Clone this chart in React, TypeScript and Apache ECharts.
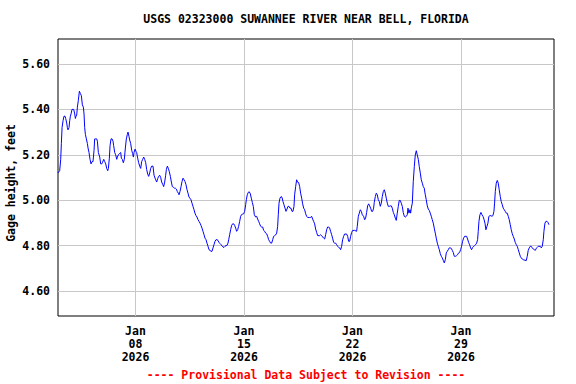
import React, { useEffect, useRef } from "react";
import * as echarts from "echarts";

const TITLE = "USGS 02323000 SUWANNEE RIVER NEAR BELL, FLORIDA";
const Y_NAME = "Gage height, feet";
const FOOTER = "---- Provisional Data Subject to Revision ----";

// hours since 2026-01-03 00:00
const hoursFromStart = [
  0, 2.6, 4.2, 5.2, 6.3, 7.8, 9.3, 10.9, 11.9, 13.5, 14.5, 15.5, 17.1, 18.1, 19.2, 20.2, 21.7, 24.3, 25.9, 26.9,
  27.9, 29.0, 30.0, 31.5, 33.1, 34.6, 36.2, 37.7, 39.3, 40.3, 41.3, 42.4, 43.9, 45.5, 46.5, 48.0, 49.6, 51.1, 52.7, 54.2,
  55.8, 56.8, 57.9, 59.9, 61.0, 62.5, 63.5, 64.6, 66.1, 67.7, 68.7, 70.8, 72.3, 73.9, 75.4, 77.0, 78.0, 79.5, 80.6, 82.1,
  83.7, 85.2, 86.2, 87.8, 89.3, 90.9, 91.9, 93.5, 95.0, 97.1, 98.1, 99.6, 101.2, 102.7, 104.3, 105.8, 107.4, 108.4, 110.0, 111.0,
  112.5, 114.1, 115.6, 116.7, 117.7, 119.3, 120.8, 121.8, 123.4, 124.9, 126.5, 128.0, 129.6, 131.1, 132.7, 134.2, 135.8, 137.3, 138.9, 140.4,
  142.0, 143.5, 145.1, 147.1, 148.7,
  149.7, 151.2, 152.8, 154.3, 155.9, 157.4, 159.0, 160.5, 162.1, 163.6, 165.2, 166.7, 167.8, 169.3, 170.9, 172.4, 174.0, 175.5, 177.0, 178.6,
  180.1, 181.7, 183.2, 184.8, 186.3, 187.4, 188.9, 190.5, 192.0, 193.6, 195.1, 196.7, 198.2, 199.8, 201.3, 202.9, 204.4, 205.9, 207.5, 209.0,
  210.6, 212.1, 213.7, 215.2, 216.8, 218.3, 219.9, 221.4, 223.0, 224.5, 226.1, 227.6, 229.2, 230.7, 232.3, 233.8, 235.4, 236.9, 238.5, 240.0,
  241.5, 243.1, 244.6, 246.2, 247.7, 249.3, 250.8, 252.4, 253.9, 255.5, 257.0, 258.6, 260.1, 261.7, 263.2, 264.3, 265.8, 267.3, 268.9, 270.4,
  272.0, 273.5, 275.1, 276.6, 278.2, 279.7, 281.3, 282.8, 284.4, 285.9, 287.5, 289.0, 290.6, 291.6, 293.1, 294.7, 296.2, 297.8, 299.3, 300.9,
  302.4, 304.0,
  306.0, 307.6, 309.1, 310.7, 312.2, 313.8, 315.3, 316.9, 318.4, 320.0, 321.5, 323.1, 324.6, 326.2, 327.7, 329.3, 330.8, 332.4, 333.9, 335.5,
  337.0, 338.6, 340.1, 341.1, 342.2, 343.7, 345.3, 346.8, 348.4, 349.9, 351.5, 353.0, 354.6, 356.1, 357.6, 359.2, 360.7, 362.3, 363.8, 365.4,
  366.4, 368.0, 369.5, 371.1, 372.6, 374.2, 375.7, 377.3, 378.8, 380.4, 381.9, 383.5, 385.0, 386.5, 389.6, 391.2, 392.7, 394.3, 395.8, 397.4,
  398.9, 400.5, 402.0, 405.1, 406.7, 408.2, 409.8, 411.3, 412.9, 414.4, 416.0, 417.5, 419.1, 420.6, 422.1, 423.7, 425.2, 426.8, 428.3, 429.9,
  431.4, 433.0, 434.5, 436.1, 437.6, 439.2, 440.7, 442.3, 443.8, 446.9, 448.5, 450.0, 451.6, 453.1, 454.7, 456.2, 459.3,
  462.4, 463.4, 465.0, 466.5, 468.1, 469.6, 471.2, 473.2, 474.8, 476.3, 477.9, 479.4, 481.0, 482.5, 484.1, 485.6, 487.2, 488.7, 489.7, 491.3,
  492.8, 494.4, 495.9, 497.5, 499.0, 500.6, 502.1, 503.7, 505.2, 506.8, 508.3, 509.9, 511.4, 513.0, 514.5, 516.1, 517.6, 519.2, 520.7, 522.3,
  523.8, 525.3, 526.9, 528.4, 530.0, 531.5, 533.1, 534.6, 536.2, 537.7, 539.3, 540.8, 541.9, 543.4, 545.0, 546.0, 547.0, 548.6, 550.1, 551.7,
  553.2, 554.8, 556.3, 557.9, 559.4, 561.0, 562.5, 564.1, 565.6, 567.1, 568.7, 570.2, 571.8, 573.3, 574.9, 576.4, 578.0, 579.5, 581.1, 582.6,
  584.2, 585.7, 587.3, 588.8, 590.4, 591.9, 593.5, 595.0, 596.6, 598.1, 599.7, 601.2, 602.8, 604.3, 605.8, 607.4, 608.9, 610.5, 612.0, 613.6,
  615.6, 617.2, 618.7, 620.3, 621.8, 623.4, 624.9, 626.5, 628.0, 629.6, 632.7, 634.2, 635.8, 637.3, 638.9, 640.4, 642.0, 643.5, 645.1, 646.6,
  648.2, 649.7, 650.7, 651.8, 653.3, 654.9, 656.4, 658.0, 659.5, 661.1, 662.6, 664.2, 665.7, 667.2, 668.8, 670.3, 671.9, 673.4, 675.0, 676.0,
  677.1, 678.6, 680.2, 681.7, 683.2, 684.8, 686.3, 687.9, 689.4, 691.0, 692.5, 694.1, 695.6, 697.2, 698.7, 700.3, 701.8, 703.4, 704.9, 706.5,
  708.0, 709.6, 711.1, 712.7, 714.2, 715.8, 717.3, 718.8, 720.4, 725.0, 726.6, 728.1, 729.7, 731.2, 732.8, 734.3, 735.9, 737.4, 739.0, 740.5,
  742.1, 743.6, 746.7, 748.3, 749.8, 751.4, 752.4, 754.0, 755.5, 757.1, 758.6, 760.2,
];

const gageHeight = [
  5.12, 5.13, 5.18, 5.25, 5.32, 5.35, 5.37, 5.37, 5.36, 5.34, 5.32, 5.31, 5.32, 5.35, 5.37, 5.38, 5.40, 5.40, 5.38, 5.36,
  5.37, 5.375, 5.41, 5.44, 5.48, 5.47, 5.46, 5.42, 5.41, 5.38, 5.32, 5.29, 5.27, 5.25, 5.23, 5.21, 5.18, 5.16, 5.17, 5.17,
  5.22, 5.27, 5.27, 5.27, 5.26, 5.21, 5.21, 5.19, 5.16, 5.16, 5.165, 5.18, 5.17, 5.16, 5.14, 5.13, 5.14, 5.185, 5.24, 5.27,
  5.27, 5.26, 5.24, 5.21, 5.20, 5.18, 5.19, 5.20, 5.205, 5.21, 5.185, 5.18, 5.165, 5.18, 5.23, 5.27, 5.29, 5.30, 5.28, 5.265,
  5.25, 5.22, 5.205, 5.19, 5.21, 5.225, 5.215, 5.21, 5.185, 5.165, 5.15, 5.14, 5.17, 5.18, 5.19, 5.18, 5.165, 5.135, 5.115, 5.105,
  5.12, 5.14, 5.15, 5.15, 5.11,
  5.11, 5.09, 5.08, 5.095, 5.105, 5.11, 5.10, 5.08, 5.07, 5.06, 5.08, 5.11, 5.135, 5.15, 5.14, 5.125, 5.105, 5.08, 5.06, 5.057,
  5.053, 5.053, 5.049, 5.038, 5.031, 5.024, 5.038, 5.06, 5.082, 5.097, 5.09, 5.082, 5.068, 5.046, 5.031, 5.013, 5.009, 5.002, 4.987, 4.973,
  4.958, 4.943, 4.932, 4.926, 4.914, 4.907, 4.899, 4.889, 4.877, 4.863, 4.848, 4.833, 4.826, 4.811, 4.797, 4.782, 4.779, 4.775, 4.775, 4.79,
  4.804, 4.819, 4.826, 4.826, 4.823, 4.814, 4.809, 4.804, 4.8, 4.794, 4.792, 4.797, 4.8, 4.801, 4.811, 4.826, 4.848, 4.87, 4.889, 4.896,
  4.896, 4.889, 4.877, 4.863, 4.87, 4.885, 4.907, 4.929, 4.937, 4.939, 4.94, 4.951, 4.98, 5.002, 5.024, 5.035, 5.037, 5.028, 5.009, 4.99,
  4.973, 4.936,
  4.926, 4.929, 4.917, 4.907, 4.896, 4.885, 4.882, 4.882, 4.867, 4.863, 4.855, 4.852, 4.841, 4.826, 4.819, 4.811, 4.811, 4.826, 4.841, 4.844,
  4.847, 4.855, 4.885, 4.936, 4.987, 5.009, 5.016, 5.013, 4.994, 4.98, 4.965, 4.951, 4.961, 4.973, 4.973, 4.965, 4.965, 4.951, 4.951, 4.973,
  5.024, 5.06, 5.09, 5.079, 5.078, 5.06, 5.031, 5.009, 4.984, 4.965, 4.958, 4.94, 4.929, 4.924, 4.924, 4.924, 4.929, 4.917, 4.907, 4.896,
  4.873, 4.858, 4.844, 4.844, 4.848, 4.844, 4.838, 4.833, 4.829, 4.848, 4.87, 4.882, 4.882, 4.877, 4.863, 4.848, 4.833, 4.814, 4.811, 4.811,
  4.804, 4.797, 4.792, 4.79, 4.782, 4.797, 4.826, 4.841, 4.851, 4.851, 4.841, 4.819, 4.819, 4.841, 4.858, 4.867, 4.867,
  4.863, 4.885, 4.929, 4.943, 4.958, 4.951, 4.936, 4.929, 4.914, 4.921, 4.946, 4.975, 4.984, 4.975, 4.965, 4.951, 4.951, 4.965, 4.99, 5.016,
  5.031, 5.024, 5.002, 4.994, 4.973, 4.987, 5.016, 5.038, 5.046, 5.031, 5.009, 4.987, 4.973, 4.973, 4.975, 4.975, 4.965, 4.946, 4.936, 4.921,
  4.911, 4.943, 4.973, 4.999, 4.999, 4.987, 4.973, 4.946, 4.929, 4.926, 4.929, 4.936, 4.965, 4.943, 4.958, 4.943, 4.965, 4.987, 5.082, 5.148,
  5.199, 5.218, 5.199, 5.18, 5.148, 5.119, 5.09, 5.075, 5.06, 5.053, 5.024, 5.002, 4.975, 4.961, 4.955, 4.943, 4.929, 4.914, 4.899, 4.877,
  4.855, 4.833, 4.811, 4.797, 4.782, 4.765, 4.753, 4.746, 4.735, 4.724, 4.738, 4.768, 4.775, 4.782, 4.79, 4.79, 4.788, 4.779, 4.77, 4.753,
  4.753, 4.756, 4.76, 4.768, 4.77, 4.782, 4.797, 4.819, 4.833, 4.841, 4.841, 4.829, 4.814, 4.804, 4.79, 4.782, 4.792, 4.797, 4.8, 4.804,
  4.811, 4.826, 4.863, 4.907, 4.936, 4.946, 4.936, 4.929, 4.917, 4.899, 4.87, 4.885, 4.899, 4.929, 4.932, 4.932, 4.929, 4.932, 4.951, 4.987,
  5.038, 5.075, 5.087, 5.075, 5.046, 5.016, 4.994, 4.98, 4.965, 4.958, 4.951, 4.943, 4.943, 4.929, 4.914, 4.892, 4.87, 4.852, 4.841, 4.829,
  4.814, 4.804, 4.797, 4.782, 4.768, 4.753, 4.746, 4.741, 4.738, 4.734, 4.753, 4.779, 4.79, 4.797, 4.797, 4.79, 4.785, 4.782, 4.779, 4.788,
  4.792, 4.797, 4.797, 4.79, 4.797, 4.826, 4.863, 4.899, 4.907, 4.907, 4.902, 4.892,
];

const yTickValues = [4.6, 4.8, 5.0, 5.2, 5.4, 5.6];
const xTickHours = [120, 288, 456, 624];
const xTickLabels = ["Jan\n08\n2026", "Jan\n15\n2026", "Jan\n22\n2026", "Jan\n29\n2026"];
const X_MIN = 0;
const X_MAX = 768;
const Y_MIN = 4.49;
const Y_MAX = 5.71;

const FONT = "'DejaVu Sans Mono', 'Liberation Mono', monospace";

export default function App() {
  const ref = useRef<HTMLDivElement>(null);
  useEffect(() => {
    if (!ref.current) return;
    const chart = echarts.init(ref.current, null, { renderer: "svg" });
    const data = hoursFromStart.map((h, i) => [h, gageHeight[i]]);
    chart.setOption({
      animation: false,
      backgroundColor: "#ffffff",
      grid: {
        left: 58,
        top: 39,
        right: 22,
        bottom: 68,
        show: true,
        borderColor: "#000000",
        borderWidth: 1,
        backgroundColor: "transparent",
        containLabel: false,
      },
      xAxis: {
        type: "value",
        min: X_MIN,
        max: X_MAX,
        axisLine: { show: false },
        axisTick: { show: false, customValues: xTickHours },
        axisLabel: {
          customValues: xTickHours,
          formatter: (v: number) => {
            const i = xTickHours.indexOf(Math.round(v));
            return i >= 0 ? xTickLabels[i] : "";
          },
          fontFamily: FONT,
          fontWeight: "bold",
          fontSize: 11.5,
          color: "#000",
          lineHeight: 13,
          margin: 8,
        },
        splitLine: { show: true, lineStyle: { color: "#c8c8c8", width: 1 } },
      },
      yAxis: {
        type: "value",
        min: Y_MIN,
        max: Y_MAX,
        axisLine: { show: false },
        axisTick: { show: false, customValues: yTickValues },
        axisLabel: {
          customValues: yTickValues,
          formatter: (v: number) => v.toFixed(2),
          fontFamily: FONT,
          fontWeight: "bold",
          fontSize: 11.5,
          color: "#000",
          margin: 8,
        },
        splitLine: { show: true, lineStyle: { color: "#c8c8c8", width: 1 } },
      },
      graphic: [
        {
          type: "text",
          x: 306,
          y: 19,
          style: {
            text: TITLE,
            fill: "#000",
            font: `bold 11.5px ${FONT}`,
            align: "center",
            verticalAlign: "middle",
          },
        },
        {
          type: "text",
          x: 11,
          y: 183,
          rotation: Math.PI / 2,
          style: {
            text: Y_NAME,
            fill: "#000",
            font: `bold 11.5px ${FONT}`,
            align: "center",
            verticalAlign: "middle",
          },
        },
        {
          type: "text",
          x: 306,
          y: 375,
          style: {
            text: FOOTER,
            fill: "#ff0000",
            font: `bold 11.5px ${FONT}`,
            align: "center",
            verticalAlign: "middle",
          },
        },
      ],
      series: [
        {
          type: "line",
          data,
          showSymbol: false,
          symbol: "none",
          lineStyle: { color: "#0000ff", width: 1 },
          itemStyle: { color: "#0000ff" },
          z: 3,
        },
      ],
    });
    return () => chart.dispose();
  }, []);
  return (
    <div
      ref={ref}
      style={{ position: "fixed", left: 0, top: 0, width: 576, height: 384, background: "#fff" }}
    />
  );
}
